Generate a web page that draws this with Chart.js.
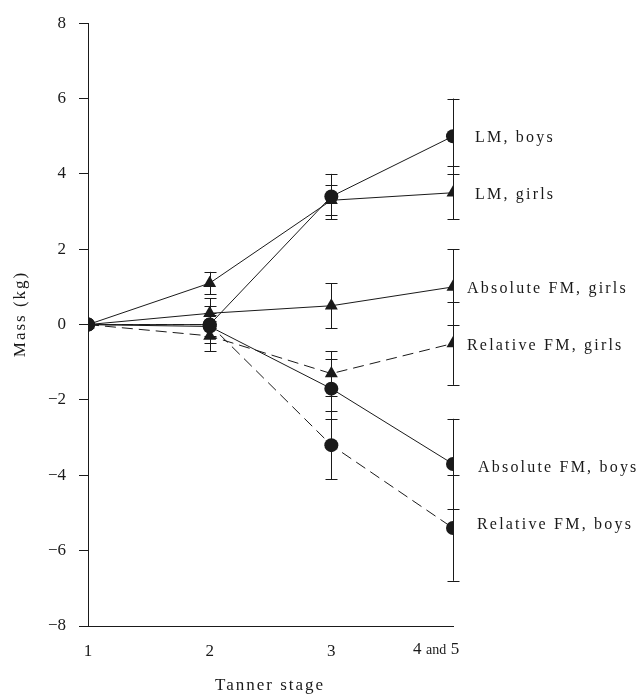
<!DOCTYPE html>
<html>
<head>
<meta charset="utf-8">
<script src="https://cdn.jsdelivr.net/npm/chart.js@4/dist/chart.umd.min.js"></script>
<style>
  html, body { margin: 0; padding: 0; background: #fff; }
  #wrap { width: 641px; height: 696px; }
</style>
</head>
<body>
<div id="wrap"><canvas id="c"></canvas></div>
<script>
// Tanner stage positions on the x axis
const stages = [1, 2, 3, 4];
const stageLabels = ['1', '2', '3', '4 and 5'];
const yTicks = [-8, -6, -4, -2, 0, 2, 4, 6, 8];

// mean change in mass (kg) and error bar half-lengths
const lmBoys = [0, 0, 3.4, 5.0];
const lmBoysErr = [0, 0.5, 0.6, 1.0];
const lmGirls = [0, 1.1, 3.3, 3.5];
const lmGirlsErr = [0, 0.3, 0.4, 0.7];
const absFmGirls = [0, 0.3, 0.5, 1.0];
const absFmGirlsErr = [0, 0.4, 0.6, 1.0];
const relFmGirls = [0, -0.3, -1.3, -0.5];
const relFmGirlsErr = [0, 0.4, 0.6, 1.1];
const absFmBoys = [0, -0.05, -1.7, -3.7];
const absFmBoysErr = [0, 0.3, 0.8, 1.2];
const relFmBoys = [0, 0, -3.2, -5.4];
const relFmBoysErr = [0, 0.3, 0.9, 1.4];

const seriesNames = ['LM, boys', 'LM, girls', 'Absolute FM, girls', 'Relative FM, girls', 'Absolute FM, boys', 'Relative FM, boys'];

const SERIF = '"Liberation Serif", "DejaVu Serif", serif';
const INK = '#1a1a1a';

function makeSet(name, vals, errs, style, dashed, labelDx, labelDy) {
  return {
    label: name,
    data: stages.map((s, i) => ({ x: s, y: vals[i] })),
    errs: errs,
    labelDx: labelDx,
    labelDy: labelDy,
    borderColor: INK,
    backgroundColor: INK,
    borderWidth: 1,
    borderDash: dashed ? [11, 6] : [],
    pointStyle: style,
    pointRadius: style === 'triangle' ? 7.5 : 7,
    pointBorderWidth: 0,
    tension: 0,
    fill: false
  };
}

const errorBars = {
  id: 'errorBars',
  beforeDatasetsDraw(chart) {
    const ctx = chart.ctx;
    const xs = chart.scales.x, ys = chart.scales.y;
    ctx.save();
    ctx.strokeStyle = INK;
    ctx.lineWidth = 1;
    chart.data.datasets.forEach(ds => {
      ds.data.forEach((p, i) => {
        const e = ds.errs[i];
        if (!e) return;
        const x = Math.round(xs.getPixelForValue(p.x)) + 0.5;
        const y1 = ys.getPixelForValue(p.y + e);
        const y2 = ys.getPixelForValue(p.y - e);
        ctx.beginPath();
        ctx.moveTo(x, y1); ctx.lineTo(x, y2);
        ctx.moveTo(x - 6, Math.round(y1) + 0.5); ctx.lineTo(x + 6, Math.round(y1) + 0.5);
        ctx.moveTo(x - 6, Math.round(y2) + 0.5); ctx.lineTo(x + 6, Math.round(y2) + 0.5);
        ctx.stroke();
      });
    });
    ctx.restore();
  }
};

const textBits = {
  id: 'textBits',
  afterDraw(chart) {
    const ctx = chart.ctx;
    const xs = chart.scales.x, ys = chart.scales.y;
    ctx.save();
    ctx.fillStyle = INK;
    ctx.letterSpacing = '2.2px';
    ctx.font = '16px ' + SERIF;
    ctx.textBaseline = 'middle';
    ctx.textAlign = 'left';
    chart.data.datasets.forEach(ds => {
      const p = ds.data[ds.data.length - 1];
      ctx.fillText(ds.label, xs.getPixelForValue(p.x) + ds.labelDx, ys.getPixelForValue(p.y) + ds.labelDy);
    });
    // last stage label, "and" set smaller like the original
    ctx.letterSpacing = '0px';
    const parts = stageLabels[3].split(' ');
    const lx = xs.getPixelForValue(stages[3]);
    let cx = lx - 40;
    [[parts[0], 17], [' ' + parts[1] + ' ', 14], [parts[2], 17]].forEach(([t, sz]) => {
      ctx.font = sz + 'px ' + SERIF;
      ctx.fillText(t, cx, 650);
      cx += ctx.measureText(t).width + 1;
    });
    // axis titles
    ctx.letterSpacing = '2px';
    ctx.font = '17px ' + SERIF;
    ctx.textAlign = 'center';
    ctx.fillText('Tanner stage', 270, 686);
    ctx.translate(21, 314);
    ctx.rotate(-Math.PI / 2);
    ctx.fillText('Mass (kg)', 0, 0);
    ctx.restore();
  }
};

new Chart(document.getElementById('c'), {
  type: 'line',
  data: {
    datasets: [
      makeSet(seriesNames[0], lmBoys, lmBoysErr, 'circle', false, 22, 2),
      makeSet(seriesNames[1], lmGirls, lmGirlsErr, 'triangle', false, 22, 2),
      makeSet(seriesNames[2], absFmGirls, absFmGirlsErr, 'triangle', false, 14, 2),
      makeSet(seriesNames[3], relFmGirls, relFmGirlsErr, 'triangle', true, 14, 2),
      makeSet(seriesNames[4], absFmBoys, absFmBoysErr, 'circle', false, 25, 4),
      makeSet(seriesNames[5], relFmBoys, relFmBoysErr, 'circle', true, 24, -3)
    ]
  },
  options: {
    responsive: true,
    maintainAspectRatio: false,
    animation: false,
    events: [],
    layout: { padding: { top: 20, right: 188, left: 0, bottom: 0 } },
    plugins: { legend: { display: false }, tooltip: { enabled: false } },
    scales: {
      x: {
        type: 'linear',
        min: 1,
        max: 4,
        afterFit(scale) { scale.height = 70; },
        afterBuildTicks(scale) { scale.ticks = stages.map(v => ({ value: v })); },
        ticks: {
          color: INK,
          padding: 15,
          maxRotation: 0,
          autoSkip: false,
          font: { family: SERIF, size: 17 },
          // last label is drawn by textBits with mixed sizes
          callback: v => (v === stages[3] ? '' : stageLabels[stages.indexOf(v)])
        },
        grid: { display: true, drawOnChartArea: false, drawTicks: false },
        border: { display: true, color: INK, width: 1 }
      },
      y: {
        min: -8,
        max: 8,
        afterFit(scale) { scale.width = 88; },
        afterBuildTicks(scale) { scale.ticks = yTicks.map(v => ({ value: v })); },
        ticks: {
          color: INK,
          padding: 13,
          font: { family: SERIF, size: 17 },
          callback: v => (v < 0 ? '\u2212' + Math.abs(v) : String(v))
        },
        grid: { display: true, drawOnChartArea: false, drawTicks: true, tickLength: 9, color: INK },
        border: { display: true, color: INK, width: 1 }
      }
    }
  },
  plugins: [errorBars, textBits]
});
</script>
</body>
</html>
